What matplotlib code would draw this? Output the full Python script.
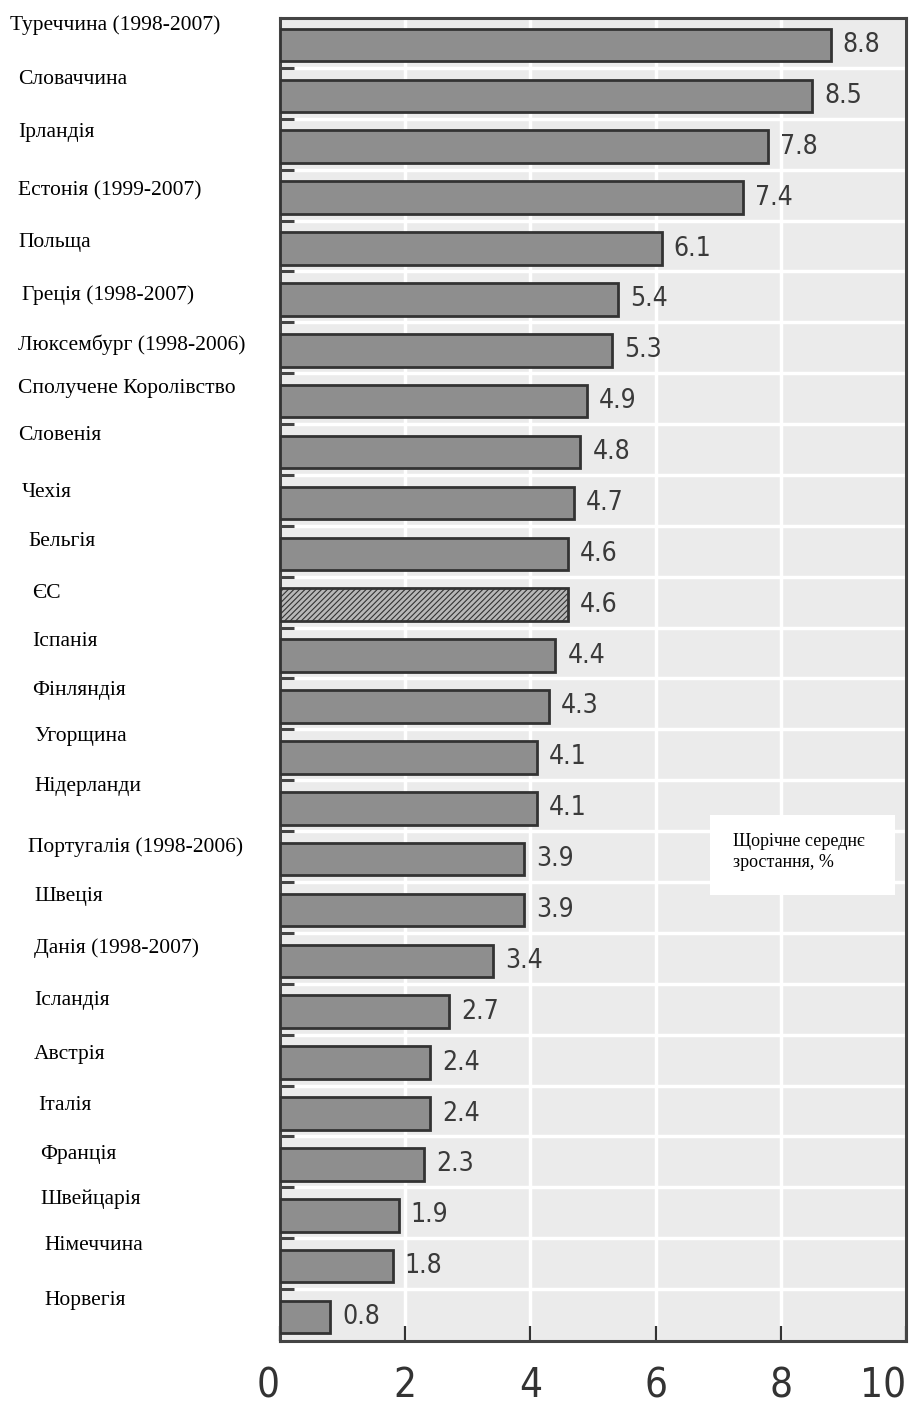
import matplotlib.pyplot as plt
import matplotlib as mpl

countries = [
    "Туреччина (1998-2007)", "Словаччина", "Ірландія", "Естонія (1999-2007)",
    "Польща", "Греція (1998-2007)", "Люксембург (1998-2006)",
    "Сполучене Королівство", "Словенія", "Чехія", "Бельгія", "ЄС", "Іспанія",
    "Фінляндія", "Угорщина", "Нідерланди", "Португалія (1998-2006)", "Швеція",
    "Данія (1998-2007)", "Ісландія", "Австрія", "Італія", "Франція",
    "Швейцарія", "Німеччина", "Норвегія",
]
growth = [8.8, 8.5, 7.8, 7.4, 6.1, 5.4, 5.3, 4.9, 4.8, 4.7, 4.6, 4.6, 4.4,
          4.3, 4.1, 4.1, 3.9, 3.9, 3.4, 2.7, 2.4, 2.4, 2.3, 1.9, 1.8, 0.8]
x_ticks = [0, 2, 4, 6, 8, 10]
legend_text = "Щорічне середнє\nзростання, %"

# label positions on the left, in pixels from the top-left corner
label_pos = [
    (10, 25), (18, 80), (18, 133), (18, 191), (18, 243), (22, 295),
    (18, 345), (18, 388), (18, 436), (22, 492), (28, 541), (32, 593),
    (32, 642), (32, 690), (34, 737), (34, 787), (28, 847), (34, 896),
    (34, 948), (34, 1001), (34, 1054), (38, 1105), (40, 1154), (40, 1199),
    (44, 1246), (44, 1301),
]

W, H = 909, 1405
serif = ["Liberation Serif", "DejaVu Serif"]
num_font = dict(family="DejaVu Sans", fontstretch="condensed")
mpl.rcParams["hatch.color"] = "#555555"
mpl.rcParams["hatch.linewidth"] = 0.8

fig = plt.figure(figsize=(W / 100, H / 100), dpi=100)
ax = fig.add_axes([280 / W, (H - 1341) / H, (906 - 280) / W, (1341 - 18) / H])
ax.set_facecolor("#ebebeb")

rows = list(range(len(countries)))
colors = ["#b8b8b8" if c == "ЄС" else "#8e8e8e" for c in countries]
bars = ax.barh(rows, growth, height=0.64, color=colors,
               edgecolor="#333333", linewidth=2.0, zorder=3)
for bar, c in zip(bars, countries):
    if c == "ЄС":
        bar.set_hatch("//////")

for r, v in zip(rows, growth):
    ax.text(v + 0.19, r, f"{v}", va="center", ha="left", fontsize=19,
            color="#3a3a3a", zorder=4, **num_font)

ax.set_xlim(0, 10)
ax.set_ylim(25.47, -0.53)

ax.set_xticks(x_ticks)
tick_labels = ax.set_xticklabels([str(t) for t in x_ticks], fontsize=29,
                                 color="#333333", **num_font)
tick_labels[0].set_ha("right")
tick_labels[-1].set_ha("right")
ax.tick_params(axis="x", direction="in", length=11, width=1.6,
               color="#333333", pad=18)
ax.set_yticks([])
ax.set_yticks([r + 0.45 for r in rows[:-1]], minor=True)
ax.tick_params(axis="y", which="minor", direction="in", length=10, width=2.2,
               color="#444444")

ax.grid(axis="x", color="white", linewidth=2.5, zorder=1)
ax.grid(axis="y", which="minor", color="white", linewidth=2.5, zorder=1)
ax.set_axisbelow(True)

for side in ["left", "right", "top", "bottom"]:
    ax.spines[side].set_color("#444444")
    ax.spines[side].set_linewidth(2.2)

for name, (px, py) in zip(countries, label_pos):
    fig.text(px / W, 1 - py / H, name, ha="left", va="center",
             family=serif, fontsize=15.5, color="black")

# white box with the measure description
fig.patches.append(mpl.patches.Rectangle(
    (710 / W, 1 - 895 / H), 185 / W, 80 / H, transform=fig.transFigure,
    facecolor="white", edgecolor="none", zorder=5))
fig.text(733 / W, 1 - 852 / H, legend_text, ha="left", va="center",
         family=serif, fontsize=13, linespacing=1.25, zorder=6)

fig.savefig("out.png", dpi=100)
